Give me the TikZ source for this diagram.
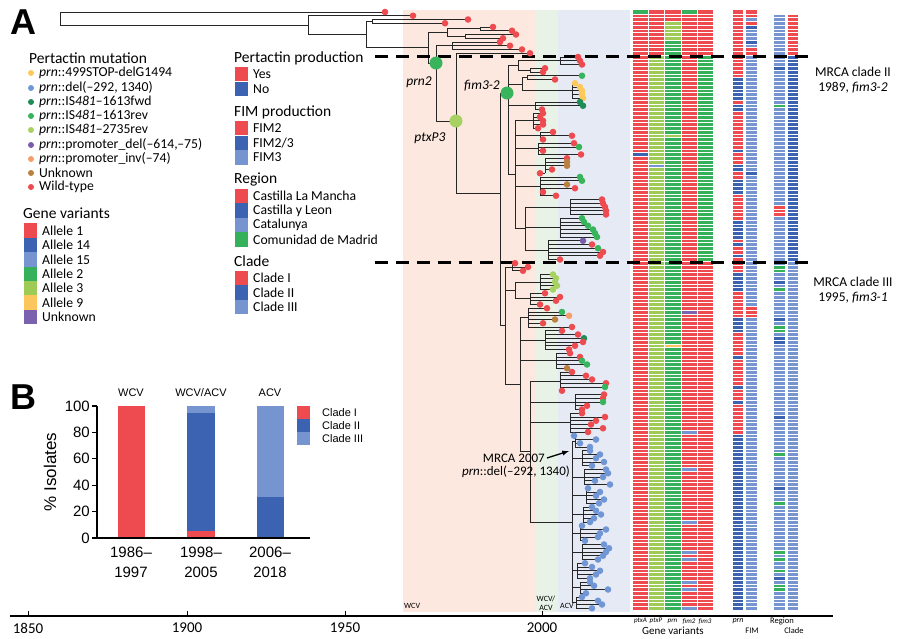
\documentclass[tikz,border=0pt]{standalone}
\usepackage{fontspec}
\setmainfont{Carlito}
\newfontfamily\arialfont{Liberation Sans}
\usetikzlibrary{calc}

% tip colours (pertactin mutation)
\definecolor{wt}{HTML}{EE4B50}
\definecolor{stop}{HTML}{FFC95A}
\definecolor{del}{HTML}{7096D6}
\definecolor{fwd}{HTML}{1F8B57}
\definecolor{rev}{HTML}{38B45C}
\definecolor{rtwo}{HTML}{A8D163}
\definecolor{pdel}{HTML}{7A5CAD}
\definecolor{pinv}{HTML}{F59E6B}
\definecolor{unk}{HTML}{B98040}
% heat map colours
\definecolor{redc}{HTML}{EE4B50}
\definecolor{darkc}{HTML}{3B63B2}
\definecolor{lightc}{HTML}{7594D0}
\definecolor{greenc}{HTML}{35B15B}
\definecolor{lgreenc}{HTML}{9DCB56}
\definecolor{yellowc}{HTML}{FCC65E}
\definecolor{purplec}{HTML}{7A62AE}
% vaccine periods
\definecolor{wcvband}{HTML}{FDE8E0}
\definecolor{mixband}{HTML}{E8F2E6}
\definecolor{acvband}{HTML}{E6EAF5}

\pgfdeclarelayer{tips}
\pgfsetlayers{main,tips}

\newcounter{ntip}
\newcommand{\hbr}[3]{\draw[branch] (#1,{12+3.75*(#3)}) -- (#2,{12+3.75*(#3)});}
\newcommand{\vbr}[3]{\draw[branch] (#1,{12+3.75*(#2)}) -- (#1,{12+3.75*(#3)});}
\newcommand{\tipdot}[3]{\begin{pgfonlayer}{tips}\fill[#3] (#1,{12+3.75*(#2)}) circle (3.3pt);\end{pgfonlayer}}
\newcommand{\subclade}[4]{
  \setcounter{ntip}{0}
  \foreach \tx/\tc in {#4} {\stepcounter{ntip}}
  \pgfmathsetmacro{\ya}{12+3.75*(#3)}
  \pgfmathsetmacro{\yb}{12+3.75*(#3+\thentip-1)}
  \pgfmathsetmacro{\ym}{(\ya+\yb)/2}
  \draw[branch] (#1,\ym) -- (#2,\ym) (#2,\ya) -- (#2,\yb);
  \foreach \tx/\tc [count=\kk from 0] in {#4} {
    \pgfmathsetmacro{\yy}{12+3.75*(#3+\kk)}
    \draw[branch] (#2,\yy) -- (\tx,\yy);
    \begin{pgfonlayer}{tips}\fill[\tc] (\tx,\yy) circle (3.3pt);\end{pgfonlayer}
  }
}
\newcommand{\hcell}[5]{\fill[#5] (#1,{10.125+3.75*(#3)}) rectangle (#2,{10.125+3.75*(#4+1)});}
\newcommand{\mutitem}[4]{
  \fill[#3] (31,#2) circle (3pt);
  \node[legtext] (#1) at (39,#2) {#4};
}
\newcommand{\keyitem}[5]{
  \fill[#4] (#2,{#3-7.2}) rectangle ({#2+13},{#3+7.2});
  \node[legtext] (#1) at ({#2+18},#3) {#5};
}

\begin{document}
\begin{tikzpicture}[x=1pt,y=-1pt,
  branch/.style={line width=0.8pt,black!85},
  legtext/.style={anchor=west,inner sep=0pt,font=\fontsize{13.7}{15}\selectfont},
  leghead/.style={anchor=west,inner sep=0pt,font=\fontsize{15.5}{17}\selectfont},
  bandlabel/.style={inner sep=0pt,font=\fontsize{8}{9}\selectfont},
  colname/.style={inner sep=0pt,font=\fontsize{7}{8}\selectfont\itshape},
  colhead/.style={inner sep=0pt,font=\fontsize{8.5}{9}\selectfont},
  event/.style={circle,inner sep=0pt,minimum size=13pt},
  eventlabel/.style={inner sep=0pt,font=\fontsize{13.5}{14}\selectfont\itshape},
  mrca/.style={inner sep=0pt,align=center,font=\fontsize{13.5}{15}\selectfont},
  cladeline/.style={line width=3pt,dash pattern=on 13pt off 8pt},
  rowsep/.style={white,line width=0.5pt},
  colsep/.style={white,line width=0.7pt},
  panel/.style={inner sep=0pt,font=\arialfont\bfseries\fontsize{36}{36}\selectfont},
  axisb/.style={line width=1.3pt},
  bnum/.style={inner sep=0pt,font=\arialfont\fontsize{15}{20}\selectfont},
  bhead/.style={inner sep=0pt,font=\arialfont\fontsize{11}{12}\selectfont},
  year/.style={inner sep=0pt,font=\fontsize{15}{16}\selectfont}]

  \useasboundingbox (0,0) rectangle (900,638);

  % vaccine periods
  \fill[wcvband] (403,10) rectangle (535,612);
  \fill[mixband] (535,10) rectangle (558,612);
  \fill[acvband] (558,10) rectangle (630,612);
  \node[bandlabel,anchor=west] (wcv) at (404,606) {WCV};
  \node[bandlabel,align=center] (mix) at (546,603) {WCV/\\ACV};
  \node[bandlabel,anchor=west] (acv) at (560,606) {ACV};

  % early branches and clade I
  \vbr{60}{0}{3.5}
  \hbr{60}{385}{0} \tipdot{385}{0}{wt}
  \hbr{60}{308}{3.5}
  \vbr{308}{1}{6}
  \hbr{308}{413}{1} \tipdot{413}{1}{wt}
  \hbr{308}{366}{6}
  \vbr{366}{2.5}{9.55}
  \subclade{366}{372}{2}{468/wt,445/wt}
  \hbr{366}{428}{9.55}
  \vbr{428}{5.5}{13.6}
  \hbr{428}{447}{5.5}
  \vbr{447}{4.5}{6.5}
  \subclade{447}{480}{4}{493/wt,512/wt}
  \subclade{447}{465}{6}{516/wt,503/wt}
  \hbr{428}{436}{13.6}
  \vbr{436}{9}{29.07}
  \subclade{436}{452}{8}{500/wt,510/wt,522/wt}
  \hbr{436}{456}{29.07}
  \vbr{456}{11}{48.27}
  \hbr{456}{530}{11} \tipdot{530}{11}{wt}
  \hbr{456}{500}{48.27}
  \vbr{500}{21.6}{83.7}

  % clade II
  \hbr{500}{508}{21.6}
  \vbr{508}{14.25}{43.4}
  \subclade{518}{560}{12}{578/wt,580/wt,582/wt}
  \subclade{518}{530}{15}{545/wt,543/wt}
  \vbr{518}{13}{15.5}
  \hbr{508}{518}{14.25}
  \subclade{522}{527}{17}{582/rev,555/wt}
  \subclade{522}{572}{19}{575/stop,580/stop,582/stop,582/stop,583/stop}
  \vbr{522}{17.5}{21}
  \hbr{508}{522}{19.25}
  \subclade{508}{535}{24}{580/fwd,583/fwd,542/wt}
  \subclade{515}{533}{27}{543/wt,540/wt,543/wt,543/wt,538/wt}
  \subclade{515}{540}{32}{553/wt,572/wt,543/wt}
  \subclade{515}{538}{35}{574/wt,579/rev,543/wt,581/wt}
  \subclade{515}{545}{39}{567/wt,567/unk,567/unk,552/wt,540/wt}
  \subclade{515}{540}{44}{580/rev,582/rev,567/unk,575/wt,543/wt,556/wt}
  \subclade{525}{570}{50}{602/wt,603/wt,605/wt,606/wt,606/wt}
  \subclade{525}{560}{55}{582/rev,584/rev,588/rev,593/rev,595/rev,597/rev}
  \subclade{525}{548}{61}{583/pdel,592/wt,598/rev,603/wt,600/wt,560/wt}
  \vbr{525}{52}{63.5}
  \hbr{515}{525}{57.75}
  \vbr{515}{29}{57.75}
  \hbr{508}{515}{43.4}

  % clade III
  \hbr{500}{505}{83.7}
  \vbr{505}{68}{99.4}
  \subclade{505}{512}{67}{515/wt,528/wt,523/wt}
  \subclade{515}{540}{70}{553/rtwo,556/rtwo,555/rtwo,557/rtwo,553/rtwo}
  \subclade{515}{530}{75}{545/wt,560/wt,556/wt,540/wt}
  \vbr{515}{72}{76.5}
  \hbr{505}{515}{74.25}
  \subclade{520}{528}{79}{547/wt,562/rev,569/pinv,555/unk,543/wt,572/wt}
  \subclade{520}{545}{85}{562/wt,578/wt,584/fwd,583/wt,575/wt,569/wt}
  \subclade{520}{556}{91}{570/wt,580/wt,582/rev,587/rev,567/unk}
  \vbr{520}{81.5}{117.25}
  \hbr{505}{520}{99.4}
  \subclade{530}{560}{96}{572/wt,586/wt,592/wt,606/wt,605/rev,562/wt}
  \subclade{530}{575}{102}{604/wt,603/wt,603/rev,587/wt,582/wt}
  \subclade{530}{570}{107}{582/wt,605/wt,596/wt,591/wt,603/wt,588/wt}
  \vbr{530}{98.5}{136}
  \hbr{520}{530}{117.25}
  \hbr{530}{572}{136}
  \vbr{572}{114.5}{157.5}
  \subclade{572}{575}{113}{574/del,596/del,580/del,590/del}
  \subclade{572}{582}{117}{590/del,600/del,596/del,604/del,592/del}
  \subclade{572}{584}{122}{606/del,608/del,603/del,595/del,610/del}
  \subclade{572}{586}{127}{588/del,600/del,596/del,604/del,599/del}
  \subclade{572}{583}{132}{592/del,596/del,601/del,594/del,590/del}
  \subclade{572}{580}{137}{582/del,606/del,600/del,598/del,585/del}
  \subclade{572}{582}{142}{604/del,609/del,606/del,603/del,598/del}
  \subclade{572}{577}{147}{585/del,592/del,600/del,596/del,590/del}
  \subclade{572}{580}{152}{590/del,594/del,608/del,586/del}
  \subclade{572}{576}{156}{582/del,598/del,602/del,592/del}

  % events on the tree
  \begin{pgfonlayer}{tips}
  \node[event,fill=rev] (prntwo) at (436,63) {};
  \node[event,fill=rtwo] (ptxpthree) at (456,121) {};
  \node[event,fill=rev] (fimthree) at (507,93) {};
  \end{pgfonlayer}
  \node[eventlabel] (prntwolab) at (419,82) {prn2};
  \node[eventlabel] (ptxplab) at (430,138) {ptxP3};
  \node[eventlabel] (fimlab) at (482,86) {fim3-2};

  % MRCA of the prn deletion
  \coordinate (delnode) at (569,451);
  \node[inner sep=0pt,anchor=east,font=\fontsize{13}{14}\selectfont] (mrcadel) at (545,458) {MRCA 2007};
  \node[inner sep=0pt,anchor=east,font=\fontsize{13}{14}\selectfont] (mrcadeltxt) at (570,472) {\textit{prn}::del(–292, 1340)};
  \draw[line width=1.3pt,-latex] (mrcadel.east) ++(2,0) -- (delnode);

  % heat map: gene variants
  \hcell{633}{648}{0}{159}{redc}
  \hcell{633}{648}{0}{0}{greenc}
  \hcell{633}{648}{38}{38}{darkc}
  \hcell{648}{664}{0}{11}{redc}
  \hcell{648}{664}{12}{159}{lgreenc}
  \hcell{648}{664}{41}{41}{lightc}
  \hcell{664}{681}{0}{2}{redc}
  \hcell{664}{681}{3}{7}{lgreenc}
  \hcell{664}{681}{8}{159}{greenc}
  \hcell{664}{681}{33}{33}{lgreenc}
  \hcell{664}{681}{89}{89}{yellowc}
  \hcell{681}{697}{0}{159}{redc}
  \hcell{681}{697}{0}{0}{greenc}
  \hcell{681}{697}{80}{80}{purplec}
  \foreach \r in {112,122,136,144,146,152,154,159} {\hcell{681}{697}{\r}{\r}{lightc}}
  \hcell{697}{713}{0}{11}{redc}
  \hcell{697}{713}{12}{66}{greenc}
  \hcell{697}{713}{67}{159}{redc}
  % pertactin and FIM production
  \hcell{733}{743}{0}{159}{redc}
  \foreach \a/\b in {18/23,25/26,37/37,41/42,45/48,56/60,62/62,65/65,70/74,82/85,92/92,100/100,104/104,113/159}
    {\hcell{733}{743}{\a}{\b}{darkc}}
  \hcell{746}{757}{0}{159}{lightc}
  \foreach \a/\b in {0/1,3/3,10/11,79/81} {\hcell{746}{757}{\a}{\b}{redc}}
  \foreach \a/\b in {4/4,8/8,43/43} {\hcell{746}{757}{\a}{\b}{darkc}}
  % region and clade
  \hcell{774}{785}{1}{159}{lightc}
  \hcell{774}{785}{52}{54}{redc}
  \foreach \a/\b in {15/15,72/72,82/82,87/88,108/108,127/127,151/151} {\hcell{774}{785}{\a}{\b}{darkc}}
  \foreach \a/\b in {25/25,68/69,74/74,84/85,118/118,131/131,144/144,146/146,149/149,153/154} {\hcell{774}{785}{\a}{\b}{greenc}}
  \hcell{788}{798}{1}{11}{redc}
  \hcell{788}{798}{12}{66}{darkc}
  \hcell{788}{798}{67}{159}{lightc}
  \foreach \r in {1,...,159} {
    \pgfmathsetmacro{\yy}{10.125+3.75*\r}
    \draw[rowsep] (633,\yy) -- (713,\yy) (733,\yy) -- (743,\yy) (746,\yy) -- (757,\yy)
      (774,\yy) -- (785,\yy) (788,\yy) -- (798,\yy);
  }
  \foreach \x in {648,664,681,697} {\draw[colsep] (\x,10.125) -- (\x,610.125);}

  % column names
  \node[colname] (ptxa) at (640.5,621) {ptxA};
  \node[colname] (ptxp) at (656,621) {ptxP};
  \node[colname] (prncol) at (672.5,621) {prn};
  \node[colname] (fimtwo) at (689,621) {fim2};
  \node[colname] (fimthr) at (705,621) {fim3};
  \node[inner sep=0pt,font=\fontsize{11}{12}\selectfont] (genes) at (673,631) {Gene variants};
  \node[colname,font=\fontsize{8}{9}\selectfont\itshape] (prnprod) at (738,621) {prn};
  \node[colhead] (fimprod) at (752,631) {FIM};
  \node[colhead] (region) at (782,621) {Region};
  \node[colhead] (clade) at (794,631) {Clade};

  % clade boundaries
  \draw[cladeline] (375,56) -- (811,56);
  \draw[cladeline] (375,262) -- (811,262);
  \node[mrca] (mrcatwo) at (853,80) {MRCA clade II\\1989, \textit{fim3-2}};
  \node[mrca] (mrcathree) at (853,290) {MRCA clade III\\1995, \textit{fim3-1}};

  % time axis
  \draw[line width=1.2pt] (10,616) -- (833,616);
  \foreach \x/\yr in {28/1850,187/1900,345/1950,542/2000} {
    \draw[line width=1pt] (\x,611) -- (\x,616);
    \node[year] (yr\yr) at (\x,628) {\yr};
  }

  % panel labels
  \node[panel] (A) at (23,22) {A};
  \node[panel] (B) at (23,397) {B};

  % legend: pertactin mutation
  \node[leghead] (mut) at (29,58) {Pertactin mutation};
  \mutitem{m1}{73}{stop}{\textit{prn}::499STOP-delG1494}
  \mutitem{m2}{88}{del}{\textit{prn}::del(–292, 1340)}
  \mutitem{m3}{102}{fwd}{\textit{prn}::IS\textit{481}–1613fwd}
  \mutitem{m4}{116}{rev}{\textit{prn}::IS\textit{481}–1613rev}
  \mutitem{m5}{130}{rtwo}{\textit{prn}::IS\textit{481}–2735rev}
  \mutitem{m6}{145}{pdel}{\textit{prn}::promoter\_del(–614,–75)}
  \mutitem{m7}{159}{pinv}{\textit{prn}::promoter\_inv(–74)}
  \mutitem{m8}{173}{unk}{Unknown}
  \mutitem{m9}{187}{wt}{Wild-type}

  % legend: gene variants
  \node[leghead] (gene) at (23,213) {Gene variants};
  \keyitem{g1}{24}{230.5}{redc}{Allele 1}
  \keyitem{g2}{24}{245}{darkc}{Allele 14}
  \keyitem{g3}{24}{259.5}{lightc}{Allele 15}
  \keyitem{g4}{24}{274}{greenc}{Allele 2}
  \keyitem{g5}{24}{288}{lgreenc}{Allele 3}
  \keyitem{g6}{24}{302.5}{yellowc}{Allele 9}
  \keyitem{g7}{24}{317}{purplec}{Unknown}

  % legend: production, region, clade
  \node[leghead] (pprod) at (234,58) {Pertactin production};
  \keyitem{p1}{235}{74}{redc}{Yes}
  \keyitem{p2}{235}{89}{darkc}{No}
  \node[leghead] (fprod) at (234,112) {FIM production};
  \keyitem{f1}{235}{128}{redc}{FIM2}
  \keyitem{f2}{235}{143}{darkc}{FIM2/3}
  \keyitem{f3}{235}{157.5}{lightc}{FIM3}
  \node[leghead] (reg) at (234,179) {Region};
  \keyitem{r1}{235}{196}{redc}{Castilla La Mancha}
  \keyitem{r2}{235}{210.5}{darkc}{Castilla y Leon}
  \keyitem{r3}{235}{225}{lightc}{Catalunya}
  \keyitem{r4}{235}{239.5}{greenc}{Comunidad de Madrid}
  \node[leghead] (cla) at (234,261) {Clade};
  \keyitem{c1}{235}{278}{redc}{Clade I}
  \keyitem{c2}{235}{292.5}{darkc}{Clade II}
  \keyitem{c3}{235}{307}{lightc}{Clade III}

  % panel B
  \fill[redc] (118,{538-1.32*100}) rectangle (145,538);
  \fill[redc] (187,{538-1.32*5}) rectangle (215,538);
  \fill[darkc] (187,{538-1.32*95}) rectangle (215,{538-1.32*5});
  \fill[lightc] (187,{538-1.32*100}) rectangle (215,{538-1.32*95});
  \fill[darkc] (257,{538-1.32*31}) rectangle (284,538);
  \fill[lightc] (257,{538-1.32*100}) rectangle (284,{538-1.32*31});
  \draw[axisb] (97,406) -- (97,538) -- (310,538);
  \foreach \v in {0,20,...,100} {
    \draw[axisb] (92,{538-1.32*\v}) -- (97,{538-1.32*\v});
    \node[bnum,anchor=east] (tick\v) at (90,{538-1.32*\v}) {\v};
  }
  \node[bnum,rotate=90,font=\arialfont\fontsize{17}{20}\selectfont] (ylab) at (50,472) {\% Isolates};
  \node[bhead] (hwcv) at (131,393) {WCV};
  \node[bhead] (hmix) at (201,393) {WCV/ACV};
  \node[bhead] (hacv) at (270,393) {ACV};
  \node[bnum,align=center] (per1) at (131,562) {1986–\\1997};
  \node[bnum,align=center] (per2) at (201,562) {1998–\\2005};
  \node[bnum,align=center] (per3) at (270,562) {2006–\\2018};
  \fill[redc] (297,406) rectangle (310,419);
  \fill[darkc] (297,419) rectangle (310,432);
  \fill[lightc] (297,432) rectangle (310,445);
  \node[bhead,anchor=west] (kb1) at (322,412.5) {Clade I};
  \node[bhead,anchor=west] (kb2) at (322,425.5) {Clade II};
  \node[bhead,anchor=west] (kb3) at (322,438.5) {Clade III};
\end{tikzpicture}
\end{document}
